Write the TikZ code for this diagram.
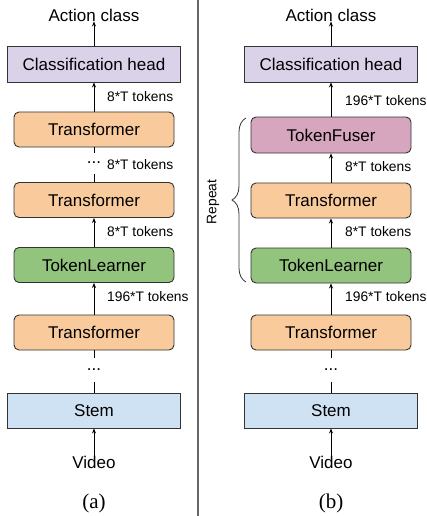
\documentclass[tikz,border=0pt]{standalone}
\usepackage{fontspec}
\setmainfont{Liberation Sans}
\newfontfamily\capfont{Liberation Serif}
\usetikzlibrary{arrows.meta,decorations.pathreplacing}
\definecolor{chcol}{HTML}{D9D2E9}
\definecolor{tfcol}{HTML}{F9CB9C}
\definecolor{tlcol}{HTML}{93C47D}
\definecolor{fucol}{HTML}{D5A6BD}
\definecolor{stcol}{HTML}{CFE2F3}
\definecolor{edgecol}{HTML}{333333}
\begin{document}
\begin{tikzpicture}[x=1pt,y=-1pt,
  sqbox/.style={draw=edgecol, line width=0.9pt, minimum width=173pt, minimum height=36pt, inner sep=0pt, font=\fontsize{17}{20}\selectfont},
  rbox/.style={draw=edgecol, line width=0.9pt, rounded corners=5pt, minimum width=160pt, minimum height=35pt, inner sep=0pt, font=\fontsize{17}{20}\selectfont},
  txt/.style={inner sep=0pt, font=\fontsize{17}{20}\selectfont},
  lbl/.style={inner sep=0pt, anchor=west, font=\fontsize{13.8}{16}\selectfont},
  arr/.style={line width=0.9pt, draw=black, -{Stealth[length=5pt,width=4pt]}},
  ln/.style={line width=0.9pt, draw=black}]
\useasboundingbox (0,0) rectangle (427,516);
% divider
\draw[line width=1.3pt, black!60] (198,0) -- (198,516);

% ---------- (a) ----------
\node[txt] (act_a) at (94,15) {Action class};
\node[sqbox, fill=chcol] (ch_a) at (94,64) {Classification head};
\node[rbox, fill=tfcol] (tf1_a) at (94,129.5) {Transformer};
\node[txt] (dot1_a) at (94,163) {...};
\node[rbox, fill=tfcol] (tf2_a) at (94,200) {Transformer};
\node[rbox, fill=tlcol] (tl_a) at (94,265) {TokenLearner};
\node[rbox, fill=tfcol] (tf3_a) at (94,332.5) {Transformer};
\node[txt] (dot2_a) at (94,370) {...};
\node[sqbox, fill=stcol, minimum height=35pt] (stem_a) at (94,410.5) {Stem};
\node[txt] (vid_a) at (94,462) {Video};
\node[inner sep=0pt, font=\capfont\fontsize{21}{24}\selectfont] (cap_a) at (94,503) {(a)};

\draw[arr] (ch_a.north) -- (act_a.south);
\draw[arr] (tf1_a.north) -- (ch_a.south);
\draw[ln] (tf1_a.south) -- ++(0,6);
\draw[ln] (tf2_a.north) -- ++(0,-8);
\draw[arr] (tl_a.north) -- (tf2_a.south);
\draw[arr] (tf3_a.north) -- (tl_a.south);
\draw[ln] (tf3_a.south) -- ++(0,8);
\draw[ln] (stem_a.north) -- ++(0,-11);
\draw[arr] (vid_a.north) -- (stem_a.south);

\node[lbl] (l1_a) at (107,97) {8*T tokens};
\node[lbl] (l2_a) at (107,165) {8*T tokens};
\node[lbl] (l3_a) at (107,232) {8*T tokens};
\node[lbl] (l4_a) at (107,297) {196*T tokens};

% ---------- (b) ----------
\node[txt] (act_b) at (331,15) {Action class};
\node[sqbox, fill=chcol] (ch_b) at (331,64) {Classification head};
\node[rbox, fill=fucol, minimum height=36pt] (fu_b) at (331,135) {TokenFuser};
\node[rbox, fill=tfcol] (tf2_b) at (331,200.5) {Transformer};
\node[rbox, fill=tlcol] (tl_b) at (331,265.5) {TokenLearner};
\node[rbox, fill=tfcol] (tf3_b) at (331,332.5) {Transformer};
\node[txt] (dot2_b) at (331,370) {...};
\node[sqbox, fill=stcol, minimum height=35pt] (stem_b) at (331,410.5) {Stem};
\node[txt] (vid_b) at (331,462) {Video};
\node[inner sep=0pt, font=\capfont\fontsize{21}{24}\selectfont] (cap_b) at (331,503) {(b)};

\draw[arr] (ch_b.north) -- (act_b.south);
\draw[arr] (fu_b.north) -- (ch_b.south);
\draw[arr] (tf2_b.north) -- (fu_b.south);
\draw[arr] (tl_b.north) -- (tf2_b.south);
\draw[arr] (tf3_b.north) -- (tl_b.south);
\draw[ln] (tf3_b.south) -- ++(0,8);
\draw[ln] (stem_b.north) -- ++(0,-11);
\draw[arr] (vid_b.north) -- (stem_b.south);

\node[lbl] (l1_b) at (345,101) {196*T tokens};
\node[lbl] (l2_b) at (345,167) {8*T tokens};
\node[lbl] (l3_b) at (345,232) {8*T tokens};
\node[lbl] (l4_b) at (345,297) {196*T tokens};

% brace
\coordinate (bb) at (246,282);
\coordinate (bt) at (246,118);
\draw[line width=0.8pt, black!80, decorate, decoration={brace, amplitude=14pt}] (bb) -- (bt);
\node[inner sep=0pt, rotate=90, font=\fontsize{13.8}{16}\selectfont] (rep) at (213,202) {Repeat};
\end{tikzpicture}
\end{document}
